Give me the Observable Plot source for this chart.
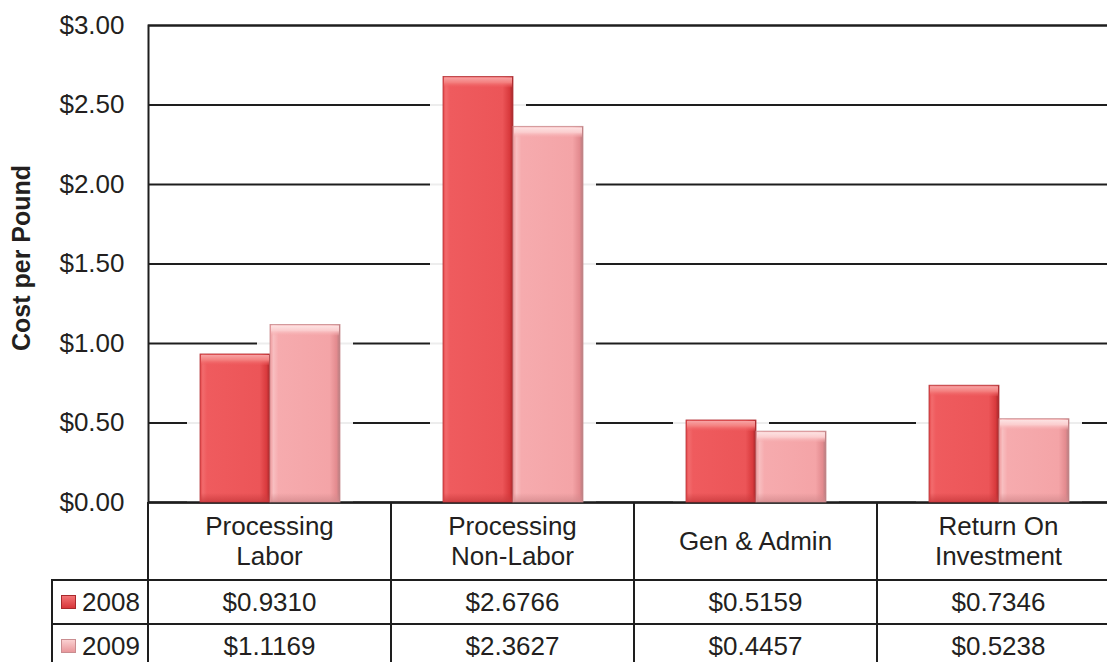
<!DOCTYPE html>
<html><head><meta charset="utf-8">
<script src="https://cdn.jsdelivr.net/npm/d3@7"></script>
<script src="https://cdn.jsdelivr.net/npm/@observablehq/plot@0.6"></script>
<style>
html,body{margin:0;padding:0;background:#fff;overflow:hidden}
#wrap{position:relative;width:1107px;height:662px;overflow:hidden;font-family:"Liberation Sans",Arial,sans-serif;color:#231f20}
#wrap svg{position:absolute;left:0;top:0;max-width:none !important}
.cell{position:absolute;display:flex;align-items:center;justify-content:center;text-align:center;font-size:26px;line-height:30px;box-sizing:border-box}
.ln{position:absolute;background:#1e1e1e}
.sw{display:inline-block;width:15px;height:14px;box-sizing:border-box;margin-right:6px}
</style></head><body><div id="wrap"></div>
<script>
// ---- data ----
const categories = ["Processing\nLabor", "Processing\nNon-Labor", "Gen & Admin", "Return On\nInvestment"];
const years = ["2008", "2009"];
const values2008 = [0.9310, 2.6766, 0.5159, 0.7346];
const values2009 = [1.1169, 2.3627, 0.4457, 0.5238];
const yTicks = [0, 0.5, 1.0, 1.5, 2.0, 2.5, 3.0];
const yLabel = "Cost per Pound";

const fmt2 = v => "$" + v.toFixed(2);
const fmt4 = v => "$" + v.toFixed(4);
const seriesValues = {"2008": values2008, "2009": values2009};
const data = categories.flatMap((c, i) => years.map(yr => ({category: c, year: yr, value: seriesValues[yr][i]})));

// ---- styles ----
const insets = {"2008": {insetLeft: 52, insetRight: 121}, "2009": {insetLeft: 122, insetRight: 51}};
const strokes = {"2008": "#b3363a", "2009": "#c98d90"};

const defs = () => {
  const d = d3.create("svg:defs");
  const lin = (id, vertical, stops) => {
    const g = d.append("linearGradient").attr("id", id)
      .attr("x1", 0).attr("y1", 0).attr("x2", vertical ? 0 : 1).attr("y2", vertical ? 1 : 0);
    stops.forEach(([o, c, op]) => g.append("stop").attr("offset", o).attr("stop-color", c).attr("stop-opacity", op ?? 1));
  };
  lin("g2008", false, [[0, "#e54447"], [0.04, "#f26b6d"], [0.1, "#ef5b5e"], [0.85, "#ec5558"], [0.95, "#d93a3d"], [1, "#a2282b"]]);
  lin("t2008", true, [[0, "#f7a3a4"], [0.5, "#f4807f"], [1, "#ef5b5e", 0.2]]);
  lin("b2008", true, [[0, "#c93a3d", 0], [1, "#c93a3d", 0.8]]);
  lin("g2009", false, [[0, "#f09a9d"], [0.05, "#f8bec0"], [0.12, "#f6abae"], [0.85, "#f4a4a7"], [0.95, "#e38b8f"], [1, "#b57c7f"]]);
  lin("t2009", true, [[0, "#fde3e3"], [0.5, "#fbcdce"], [1, "#f6abae", 0.2]]);
  lin("b2009", true, [[0, "#d48a8d", 0], [1, "#d48a8d", 0.8]]);
  return d.node();
};

const barMarks = years.flatMap(yr => {
  const rows = data.filter(d => d.year === yr);
  const {insetLeft, insetRight} = insets[yr];
  return [
    Plot.barY(rows, {x: "category", y: "value", fill: "white", fillOpacity: 0.92, insetLeft: insetLeft - 13, insetRight: insetRight - 13})
  ];
});
const barFills = years.flatMap(yr => {
  const rows = data.filter(d => d.year === yr);
  const {insetLeft, insetRight} = insets[yr];
  return [
    Plot.barY(rows, {x: "category", y: "value", fill: `url(#g${yr})`, stroke: strokes[yr], strokeWidth: 0.8, insetLeft, insetRight}),
    Plot.barY(rows, {x: "category", y1: "value", y2: "value", insetBottom: -11, fill: `url(#t${yr})`, insetLeft: insetLeft + 1, insetRight: insetRight + 1, insetTop: 1}),
    Plot.barY(rows, {x: "category", y1: d => 0, y2: d => 0, insetTop: -9, fill: `url(#b${yr})`, insetLeft: insetLeft + 1, insetRight: insetRight + 1})
  ];
});

const plot = Plot.plot({
  width: 1120, height: 512,
  marginLeft: 148, marginRight: 0, marginTop: 25, marginBottom: 10,
  style: {fontFamily: "'Liberation Sans', Arial, sans-serif", fontSize: "26px", color: "#231f20", background: "transparent", overflow: "visible", maxWidth: "none"},
  x: {domain: categories, padding: 0, axis: null},
  y: {domain: [0, 3], axis: null},
  marks: [
    defs,
    Plot.ruleY(yTicks, {stroke: "#1e1e1e", strokeWidth: 2}),
    ...barMarks,
    Plot.ruleY([0], {stroke: "#1e1e1e", strokeWidth: 2}),
    Plot.frame({stroke: "#1e1e1e", strokeWidth: 2}),
    ...barFills,
    Plot.axisY(yTicks, {tickSize: 0, tickPadding: 24, tickFormat: fmt2, fontSize: 26, label: null, fill: "#231f20"}),
    Plot.text([yLabel], {frameAnchor: "left", textAnchor: "middle", rotate: -90, dx: -127, dy: -6, fontWeight: "bold", fontSize: 25, fill: "#231f20"})
  ]
});

const wrap = document.getElementById("wrap");
wrap.appendChild(plot);

// ---- data table below the axis, aligned to the plot's scales ----
const xs = plot.scale("x"), ys = plot.scale("y");
const y0 = ys.apply(0);
const bw = xs.bandwidth;
const headerH = 78, rowH = 44;
const legendLeft = 52;
const right = 1107;
const bottom = 662;
const add = (cls, styles, html) => {
  const el = document.createElement("div");
  el.className = cls;
  Object.assign(el.style, styles);
  if (html != null) el.innerHTML = html;
  wrap.appendChild(el);
  return el;
};
const px = v => v + "px";

// header cells
categories.forEach(c => {
  const x = xs.apply(c);
  add("cell", {left: px(x), top: px(y0), width: px(bw), height: px(headerH)}, c.split("\n").join("<br>"));
});
// value rows
const swatch = {
  "2008": "background:linear-gradient(#f37476,#d8363a);border:1px solid #a8292c",
  "2009": "background:linear-gradient(#fad0d1,#e8979b);border:1px solid #c98d90"
};
years.forEach((yr, r) => {
  const top = y0 + headerH + r * rowH;
  add("cell", {left: px(legendLeft), top: px(top), width: px(xs.apply(categories[0]) - legendLeft), height: px(rowH), justifyContent: "flex-start", paddingLeft: "9px"},
    `<span class="sw" style="${swatch[yr]}"></span>${yr}`);
  categories.forEach((c, i) => {
    add("cell", {left: px(xs.apply(c)), top: px(top), width: px(bw), height: px(rowH)}, fmt4(seriesValues[yr][i]));
  });
});
// grid lines of the table
categories.forEach(c => {
  const x = xs.apply(c);
  add("ln", {left: px(x - 1), top: px(y0), width: "2px", height: px(bottom - y0)});
});
add("ln", {left: px(legendLeft - 1), top: px(y0 + headerH - 1), width: "2px", height: px(bottom - y0 - headerH + 1)});
years.forEach((yr, r) => {
  const top = y0 + headerH + r * rowH;
  add("ln", {left: px(legendLeft - 1), top: px(top - 1), width: px(right - legendLeft + 1), height: "2px"});
});
</script></body></html>
